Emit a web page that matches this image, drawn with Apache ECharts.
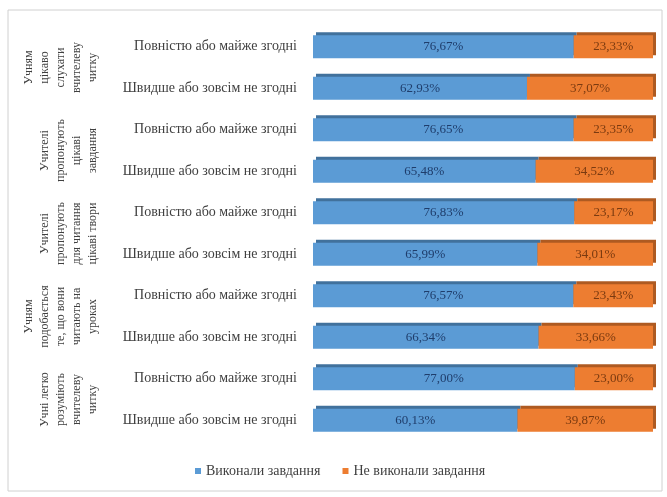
<!DOCTYPE html>
<html>
<head>
<meta charset="UTF-8">
<title>Читання</title>
<script src="https://cdn.jsdelivr.net/npm/echarts@6/dist/echarts.min.js"></script>
<style>
  html, body { margin: 0; padding: 0; background: #fff; }
  #chart { width: 667px; height: 497px; }
</style>
</head>
<body>
<div id="chart"></div>
<script>
// групи питань (зверху вниз)
var groups = [
  'Учням\nцікаво\nслухати\nвчителеву\nчитку',
  'Учителі\nпропонують\nцікаві\nзавдання',
  'Учителі\nпропонують\nдля читання\nцікаві твори',
  'Учням\nподобається\nте, що вони\nчитають на\nуроках',
  'Учні легко\nрозуміють\nвчителеву\nчитку'
];
var categories = [
  'Повністю або майже згодні', 'Швидше або зовсім не згодні',
  'Повністю або майже згодні', 'Швидше або зовсім не згодні',
  'Повністю або майже згодні', 'Швидше або зовсім не згодні',
  'Повністю або майже згодні', 'Швидше або зовсім не згодні',
  'Повністю або майже згодні', 'Швидше або зовсім не згодні'
];
var done = [76.67, 62.93, 76.65, 65.48, 76.83, 65.99, 76.57, 66.34, 77.00, 60.13];
var notDone = [23.33, 37.07, 23.35, 34.52, 23.17, 34.01, 23.43, 33.66, 23.00, 39.87];
var seriesNames = ['Виконали завдання', 'Не виконали завдання'];

var serif = '"Liberation Serif", "DejaVu Serif", serif';

function pct(p) {
  return p.value.toFixed(2).replace('.', ',') + '%';
}

var chart = echarts.init(document.getElementById('chart'));
chart.setOption({
  animation: false,
  graphic: [{
    type: 'rect',
    shape: { x: 8, y: 10, width: 654, height: 481 },
    style: { fill: 'none', stroke: '#d0d0d0', lineWidth: 1 }
  }],
  legend: {
    data: seriesNames,
    left: 190,
    top: 459,
    itemWidth: 6,
    itemHeight: 6,
    itemGap: 22,
    icon: 'rect',
    textStyle: { fontFamily: serif, fontSize: 14, color: '#404040' }
  },
  grid: { left: 313, right: 14, top: 26, bottom: 56 },
  xAxis: {
    type: 'value',
    min: 0,
    max: 100,
    show: false
  },
  yAxis: [{
    type: 'category',
    data: categories,
    inverse: true,
    axisLine: { show: false },
    axisTick: { show: false },
    axisLabel: { fontFamily: serif, fontSize: 14, color: '#404040', margin: 16 }
  }, {
    type: 'category',
    data: groups,
    inverse: true,
    position: 'left',
    offset: 206,
    axisLine: { show: false },
    axisTick: { show: false },
    axisLabel: { rotate: 90, fontFamily: serif, fontSize: 12, lineHeight: 16, color: '#404040', margin: 6 }
  }],
  series: [{
    name: seriesNames[0],
    type: 'bar',
    stack: 'all',
    barWidth: 23,
    data: done,
    itemStyle: {
      color: '#5b9bd5',
      shadowColor: '#41719c',
      shadowOffsetX: 3,
      shadowOffsetY: -3,
      shadowBlur: 0
    },
    label: { show: true, formatter: pct, fontFamily: serif, fontSize: 13, color: '#1f3d6b' }
  }, {
    name: seriesNames[1],
    type: 'bar',
    stack: 'all',
    barWidth: 23,
    data: notDone,
    itemStyle: {
      color: '#ed7d31',
      shadowColor: '#ae5a21',
      shadowOffsetX: 3,
      shadowOffsetY: -3,
      shadowBlur: 0
    },
    label: { show: true, formatter: pct, fontFamily: serif, fontSize: 13, color: '#7a3a10' }
  }]
});
</script>
</body>
</html>
